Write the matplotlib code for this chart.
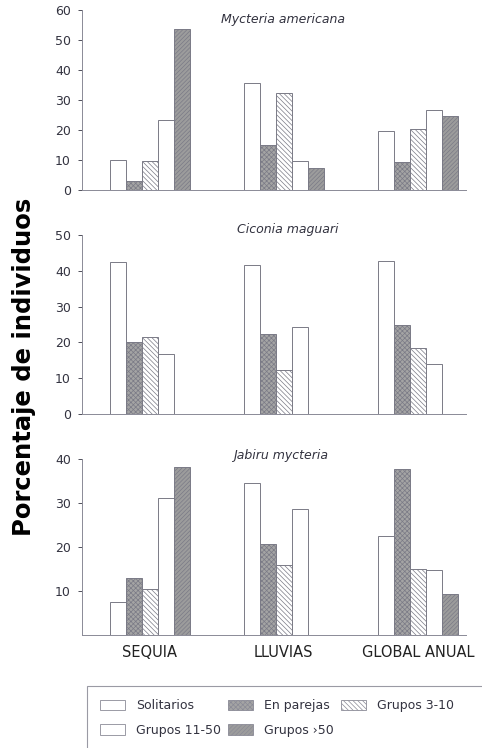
import numpy as np
import matplotlib
matplotlib.use("Agg")
import matplotlib.pyplot as plt
from matplotlib.patches import Patch, Rectangle

plt.rcParams['font.family'] = ['DejaVu Sans']
plt.rcParams['hatch.linewidth'] = 0.5
plt.rcParams['hatch.color'] = '#555555'

# data (percent of individuals)
periods = ['SEQUIA', 'LLUVIAS', 'GLOBAL ANUAL']
groups = ['Solitarios', 'En parejas', 'Grupos 3-10', 'Grupos 11-50', 'Grupos \u203a50']
species = ['Mycteria americana', 'Ciconia maguari', 'Jabiru mycteria']

mycteria = [[10.0, 2.9, 9.7, 23.3, 53.8],
            [35.8, 15.0, 32.2, 9.7, 7.2],
            [19.6, 9.4, 20.2, 26.7, 24.8]]
ciconia = [[42.4, 20.0, 21.4, 16.7, 0],
           [41.6, 22.4, 12.4, 24.2, 0],
           [42.7, 24.9, 18.5, 14.1, 0]]
jabiru = [[7.5, 12.9, 10.4, 31.1, 38.1],
          [34.6, 20.6, 16.0, 28.7, 0],
          [22.6, 37.8, 14.9, 14.8, 9.4]]

ylims = [60, 50, 40]
yticks = [[0, 10, 20, 30, 40, 50, 60], [0, 10, 20, 30, 40, 50], [10, 20, 30, 40]]

face = ['white', '#a4a4a4', 'white', 'white', '#9c9c9c']
hatch = [None, 'xxxxxxx', '\\\\\\\\\\\\\\', None, '////////']
edge = '#7a7a86'

fig = plt.figure(figsize=(4.82, 7.48), dpi=100)
W, H = 482.0, 748.0
# axes boxes in pixels: (top, bottom), and species title spot
boxes = [(10, 190), (235, 414), (459, 635)]
title_pos = [(0.523, 20), (0.536, 230), (0.516, 455)]
left, right = 82, 466

x = np.arange(len(periods))
w = 0.12
for k, data in enumerate([mycteria, ciconia, jabiru]):
    top, bot = boxes[k]
    ax = fig.add_axes([left / W, 1 - bot / H, (right - left) / W, (bot - top) / H])
    arr = np.array(data)
    for g in range(len(groups)):
        ax.bar(x - 2 * w + g * w, arr[:, g], width=w, color=face[g], hatch=hatch[g],
               edgecolor=edge, linewidth=0.7)
    ax.set_xlim(-0.507, 2.36)
    ax.set_ylim(0, ylims[k])
    ax.set_yticks(yticks[k])
    ax.tick_params(axis='y', labelsize=9, length=3, width=0.6, colors='#333340', pad=5)
    ax.tick_params(axis='x', length=0)
    for s in ['top', 'right']:
        ax.spines[s].set_visible(False)
    for s in ['left', 'bottom']:
        ax.spines[s].set_color('#8a8a96')
        ax.spines[s].set_linewidth(0.7)
    tx, ty = title_pos[k]
    fig.text((left + tx * (right - left)) / W, 1 - ty / H, species[k], ha='center',
             va='center', style='italic', fontsize=9, color='#333340')
    if k < 2:
        ax.set_xticks([])
    else:
        ax.set_xticks(x)
        ax.set_xticklabels(periods, fontsize=10.5, color='#222222')
        ax.tick_params(axis='x', pad=7)

fig.text(24 / W, 1 - 367 / H, 'Porcentaje de individuos', rotation=90, ha='center',
         va='center', fontsize=17.5, fontweight='bold', color='black')

# legend frame runs off the right and bottom edges
fig.patches.append(Rectangle((87 / W, -0.02), 1.0, 0.02 + 1 - 686 / H, transform=fig.transFigure,
                             fill=False, edgecolor='#9a9aa4', linewidth=0.8))

# legend (row-major order for 3 columns)
handles = [Patch(facecolor=face[g], hatch=hatch[g], edgecolor='#8a8a96', linewidth=0.6)
           for g in range(len(groups))]
order = [0, 3, 1, 4, 2]
leg = fig.legend([handles[i] for i in order], [groups[i] for i in order], ncol=3,
                 loc='upper left', bbox_to_anchor=(100 / W, 1 - 699 / H),
                 fontsize=9, frameon=False, handlelength=2.0, handleheight=0.9,
                 handletextpad=0.9, columnspacing=0.55, borderpad=0, labelspacing=0.95,
                 borderaxespad=0)
for t in leg.get_texts():
    t.set_color('#333340')

fig.savefig('out.png', dpi=100)
